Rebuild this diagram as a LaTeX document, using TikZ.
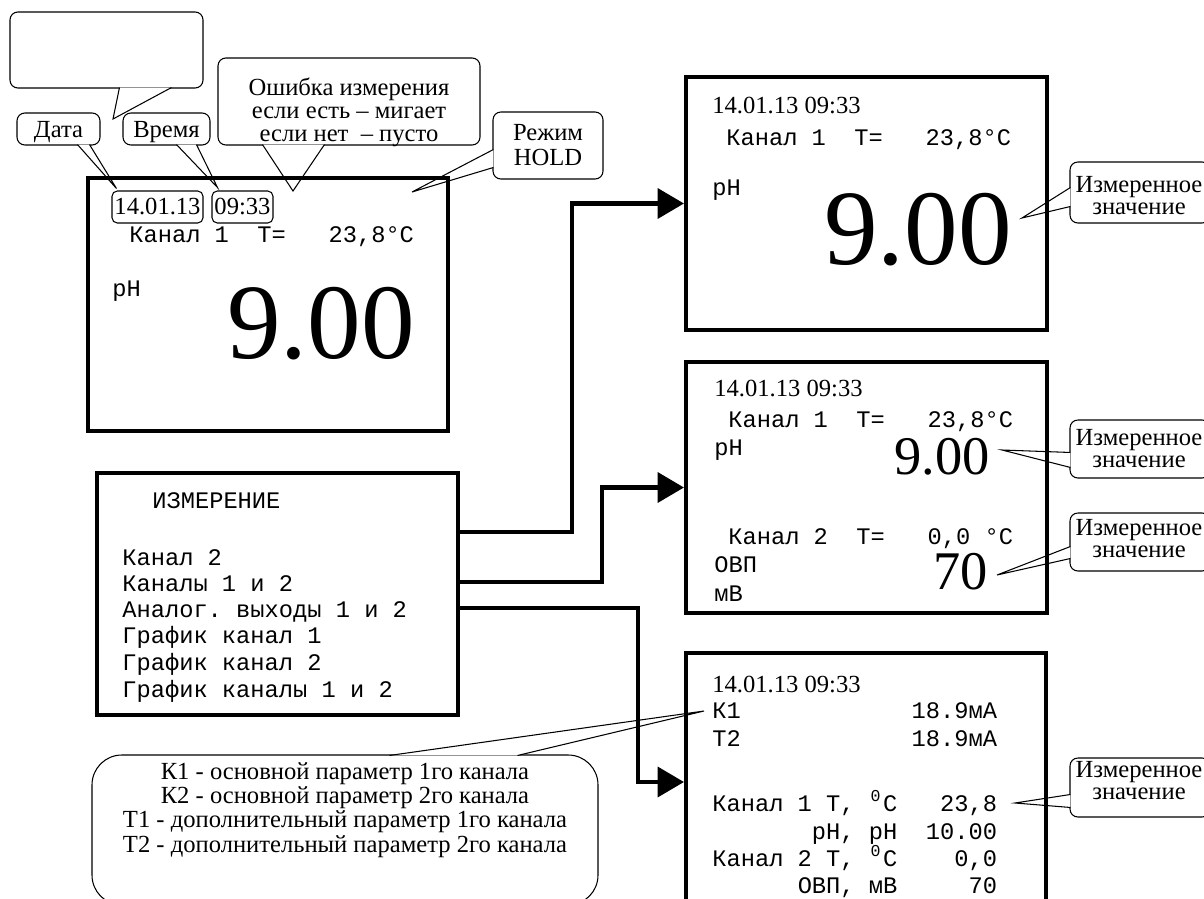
\documentclass[tikz,border=0pt]{standalone}
\usepackage{fontspec}
\setmainfont{Liberation Serif}
\setmonofont{Liberation Mono}
\usetikzlibrary{arrows.meta, fit, calc}

% stacked lines, first baseline on top
\newcommand{\rows}[1]{\begin{tabular}[t]{@{}c@{}}#1\end{tabular}}
% small raised zero, one column wide
\newcommand{\supzero}{\makebox[0.6em][c]{\textsuperscript{0}}}

\begin{document}
\begin{tikzpicture}[x=0.02cm, y=-0.02cm,
    screen/.style={draw, line width=2.3pt, inner sep=0pt},
    note/.style={draw, fill=white, line width=0.6pt, rounded corners=4.5pt, inner sep=0pt},
    tail/.style={draw, fill=white, line width=0.6pt},
    tag/.style={draw, line width=0.6pt, rounded corners=3pt, inner sep=0pt},
    txt/.style={font=\fontsize{14}{#1}\selectfont, inner sep=0pt, anchor=base},
    txt/.default=13.5,
    lcd/.style={font=\fontsize{13.5}{15}\selectfont\ttfamily, inner sep=0pt, anchor=base west},
    bigval/.style={font=\fontsize{61}{61}\selectfont, inner sep=0pt, anchor=base east},
    midval/.style={font=\fontsize{31}{31}\selectfont, inner sep=0pt, anchor=base east},
    flow/.style={line width=2.3pt, -{Triangle[length=15pt, width=17pt]}}]

  \useasboundingbox (0,0) rectangle (1204,899);

  % empty note, top left
  \node[note, fit={(10,12) (203,88)}] (blank) {};
  \coordinate (blanktip) at (113,119);
  \draw[tail] ($(blank.south west)+(110,-1)$) -- (blanktip)
    -- ($(blank.south west)+(162,-1)$);

  % date and time tags
  \node[tag, fit={(112,191) (203,223)}] (date) {};
  \node[txt] (datelabel) at (157.5,214) {14.01.13};
  \node[tag, fit={(212,191) (273,223)}] (time) {};
  \node[txt] (timelabel) at (242.5,214) {09:33};

  % date note
  \node[note, fit={(17,113) (100,145)}] (datenote) {};
  \node[txt] (datetext) at (58.5,137) {Дата};
  \coordinate (datetip) at ($(date.north west)+(5,-2)$);
  \draw[tail] ($(datenote.south west)+(61,-1)$) -- (datetip)
    -- ($(datenote.south west)+(73,-1)$);

  % time note
  \node[note, fit={(123,113) (210,145)}] (timenote) {};
  \node[txt] (timetext) at (166.5,137) {Время};
  \coordinate (timetip) at ($(time.north west)+(6,-3)$);
  \draw[tail] ($(timenote.south west)+(54,-1)$) -- (timetip)
    -- ($(timenote.south west)+(74,-1)$);

  % error note
  \node[note, fit={(218,58) (480,145)}] (errnote) {};
  \node[txt=13.3] (errtext) at (349,95)
    {\rows{Ошибка измерения\\если есть – мигает\\если нет~ – пусто}};
  \coordinate (errtip) at (293,191);
  \draw[tail] ($(errnote.south west)+(45,-1)$) -- (errtip)
    -- ($(errnote.south west)+(107,-1)$);

  % hold note
  \node[note, fit={(493,112) (603,179)}] (holdnote) {};
  \node[txt=14.7] (holdtext) at (548,140) {\rows{Режим\\HOLD}};
  \coordinate (holdtip) at (412,192);
  \draw[tail] ($(holdnote.north west)+(1,38)$) -- (holdtip)
    -- ($(holdnote.north west)+(1,56)$);

  % measured value notes
  \node[note, fit={(1070,162) (1210,223)}] (valA) {};
  \node[txt=13] (valAtext) at (1139,192) {\rows{Измеренное\\значение}};
  \coordinate (valAtip) at (1022,218);
  \draw[tail] ($(valA.north west)+(1,26)$) -- (valAtip)
    -- ($(valA.north west)+(1,45)$);

  \node[note, fit={(1070,420) (1210,478)}] (valB) {};
  \node[txt=13] (valBtext) at (1139,445) {\rows{Измеренное\\значение}};
  \coordinate (valBtip) at (1002,450);
  \draw[tail] ($(valB.north west)+(1,33)$) -- (valBtip)
    -- ($(valB.north west)+(1,48)$);

  \node[note, fit={(1070,513) (1210,571)}] (valD) {};
  \node[txt=13] (valDtext) at (1139,535) {\rows{Измеренное\\значение}};
  \coordinate (valDtip) at (997,575);
  \draw[tail] ($(valD.north west)+(1,34)$) -- (valDtip)
    -- ($(valD.north west)+(1,46)$);

  \node[note, fit={(1070,758) (1210,817)}] (valC) {};
  \node[txt=13] (valCtext) at (1139,777) {\rows{Измеренное\\значение}};
  \coordinate (valCtip) at (1015,803);
  \draw[tail] ($(valC.north west)+(1,37)$) -- (valCtip)
    -- ($(valC.north west)+(1,50)$);

  % legend note, bottom
  \node[note, rounded corners=17pt, fit={(92,755) (598,905)}] (legend) {};
  \node[txt=13.9] (legendtext) at (345,779)
    {\rows{К1 - основной параметр 1го канала\\К2 - основной параметр 2го канала\\
      Т1 - дополнительный параметр 1го канала\\Т2 - дополнительный параметр 2го канала}};
  \coordinate (legendtip) at (704,711);
  \draw[tail] ($(legend.north west)+(298,1)$) -- (legendtip)
    -- ($(legend.north west)+(426,1)$);

  % main display
  \node[screen, fit={(88,178) (448,431)}] (main) {};
  \node[lcd] (mainch) at (129,242) {Канал~1~~T=~~~23,8°C};
  \node[lcd] (mainph) at (112,296) {pH};
  \node[bigval] (mainval) at (415,358) {9.00};

  % menu
  \node[screen, fit={(97,473) (458,715)}] (menu) {};
  \node[lcd] (title) at (152,508) {ИЗМЕРЕНИЕ};
  \node[lcd] (item1) at (122,565) {Канал 2};
  \node[lcd] (item2) at (122,591) {Каналы 1 и 2};
  \node[lcd] (item3) at (122,617) {Аналог. выходы 1 и 2};
  \node[lcd] (item4) at (122,643) {График канал 1};
  \node[lcd] (item5) at (122,670) {График канал 2};
  \node[lcd] (item6) at (122,697) {График каналы 1 и 2};

  % display A: one channel
  \node[screen, fit={(686,77) (1047,330)}] (dispA) {};
  \node[txt, anchor=base west] (Adate) at (712,113) {14.01.13 09:33};
  \node[lcd] (Ach) at (726,145) {Канал~1~~T=~~~23,8°C};
  \node[lcd] (Aph) at (712,195) {pH};
  \node[bigval] (Aval) at (1012,264) {9.00};

  % display B: two channels
  \node[screen, fit={(686,362) (1047,613)}] (dispB) {};
  \node[txt, anchor=base west] (Bdate) at (714,396) {14.01.13 09:33};
  \node[lcd] (Bch1) at (728,427) {Канал~1~~T=~~~23,8°C};
  \node[lcd] (Bph) at (714,455) {pH};
  \node[midval] (Bval1) at (990,474) {9.00};
  \node[lcd] (Bch2) at (728,544) {Канал~2~~T=~~~0,0~°C};
  \node[lcd] (Bovp) at (714,572) {ОВП};
  \node[lcd] (Bmv) at (714,601) {мВ};
  \node[midval] (Bval2) at (988,589) {70};

  % display C: analog outputs
  \node[screen, fit={(686,653) (1046,911)}] (dispC) {};
  \node[txt, anchor=base west] (Cdate) at (712,692) {14.01.13 09:33};
  \node[lcd] (Ck1) at (712,718) {К1~~~~~~~~~~~~18.9мА};
  \node[lcd] (Ct2) at (712,746) {Т2~~~~~~~~~~~~18.9мА};
  \node[lcd] (Cch1) at (712,811) {Канал~1~Т,~\supzero C~~~23,8};
  \node[lcd] (Cph) at (712,839) {~~~~~~~pH,~pH~~10.00};
  \node[lcd] (Cch2) at (712,866) {Канал~2~Т,~\supzero C~~~~0,0};
  \node[lcd] (Covp) at (712,893) {~~~~~~ОВП,~мВ~~~~~70};

  % menu to displays
  \draw[flow] (menu.east |- 0,532) -- (572,532) |- (dispA.west);
  \draw[flow] (menu.east |- 0,582) -- (602,582) |- (dispB.west);
  \draw[flow] (menu.east |- 0,608) -- (638,608) |- (dispC.west);

\end{tikzpicture}
\end{document}
